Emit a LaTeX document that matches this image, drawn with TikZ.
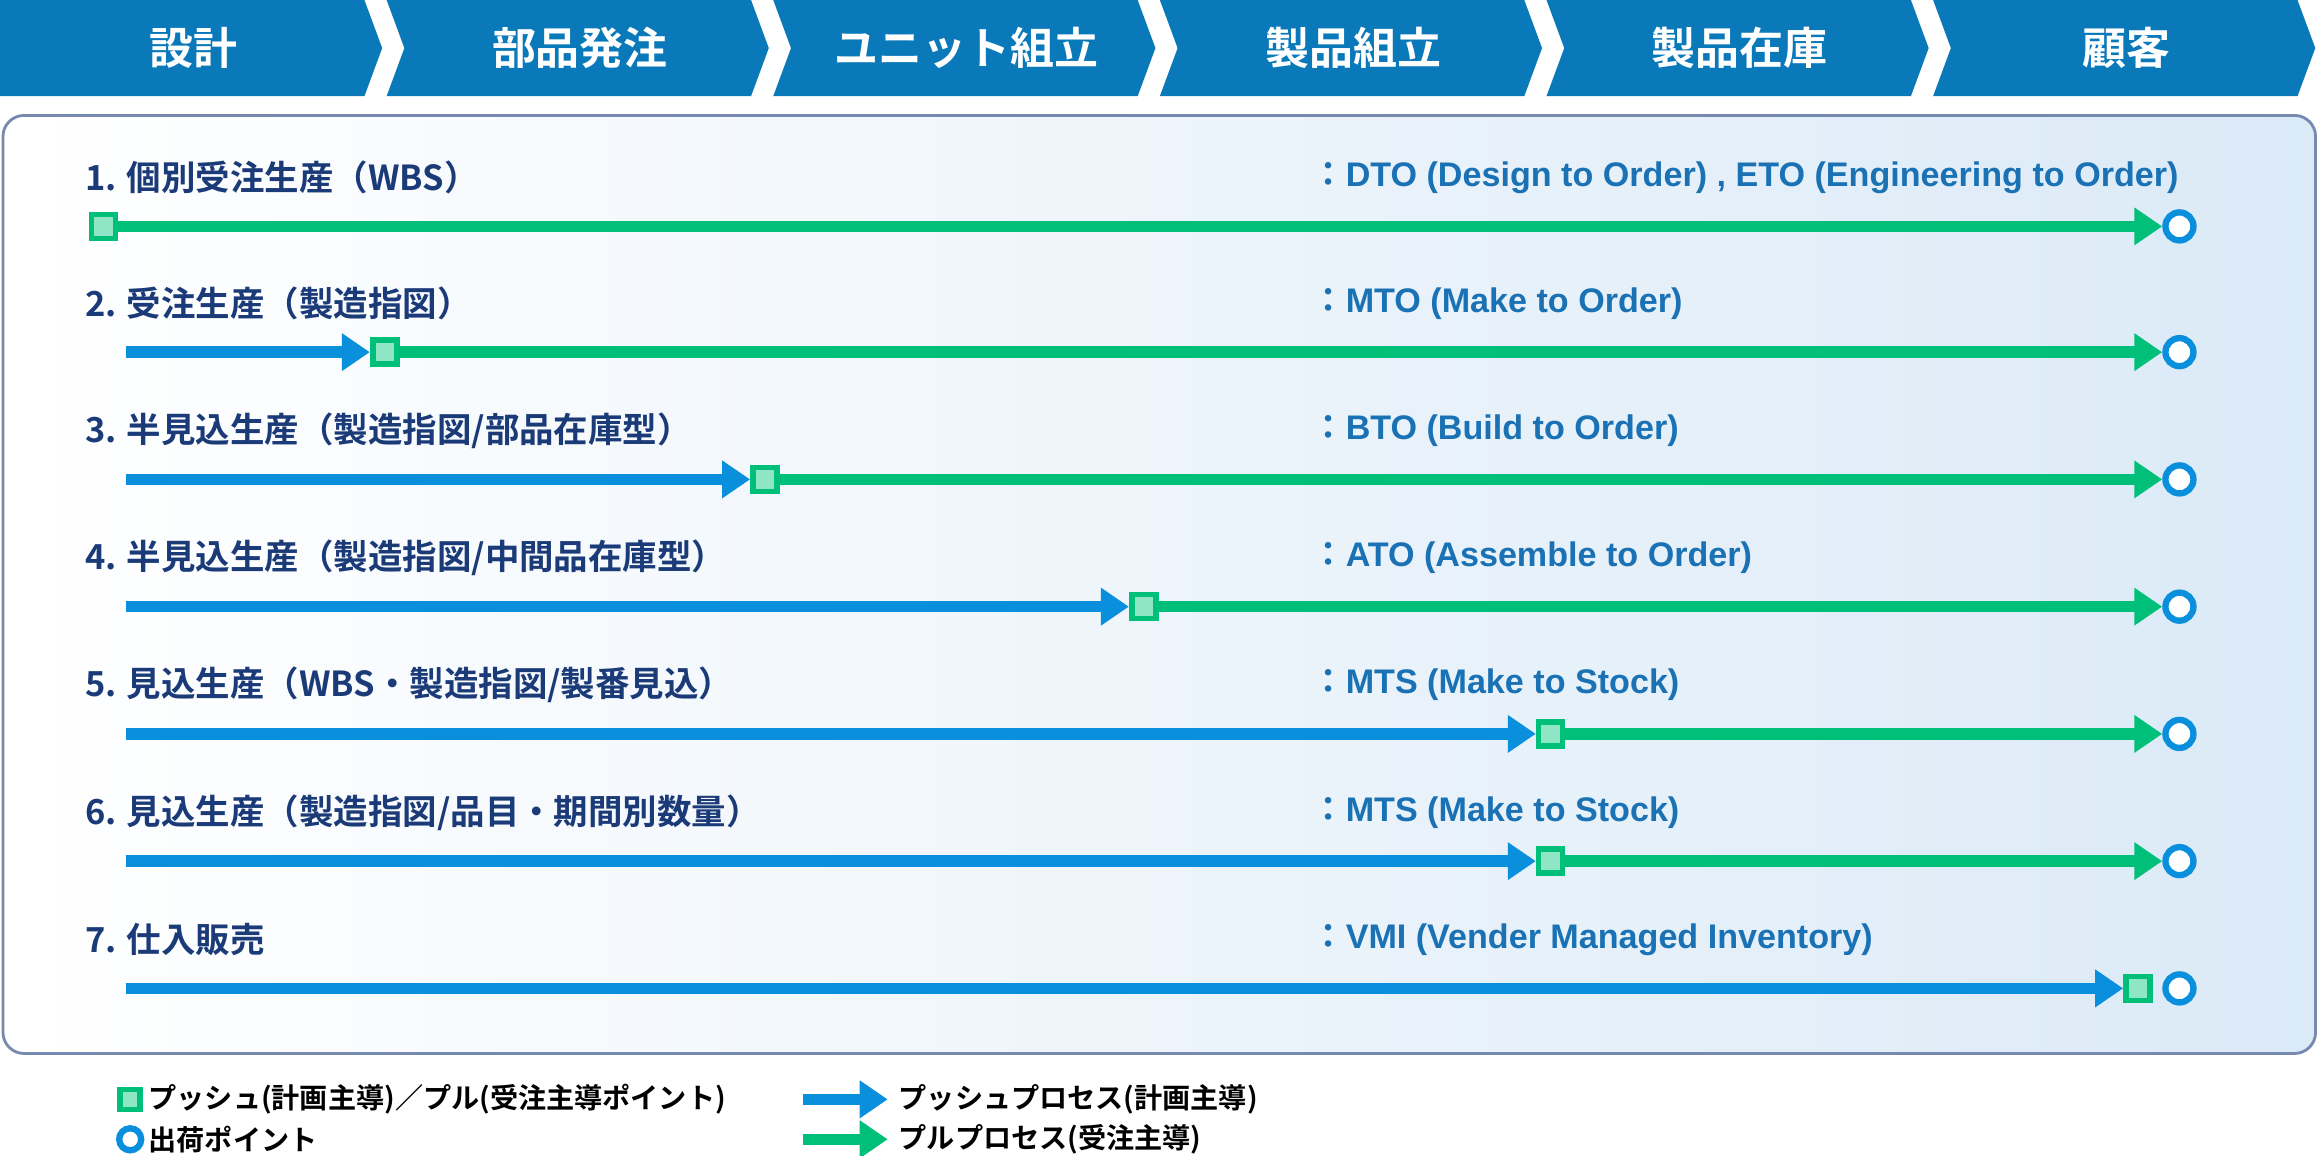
\documentclass[tikz,border=0pt]{standalone}
\usepackage{fontspec}
\setmainfont{Noto Sans CJK JP}[BoldFont={* Bold}]
\newfontfamily\latinfont{Liberation Sans}
\usetikzlibrary{arrows.meta}

\definecolor{bandblue}{HTML}{0A79BA}
\definecolor{pushblue}{HTML}{0A8FDC}
\definecolor{pullgreen}{HTML}{00BF78}
\definecolor{sqfill}{HTML}{8FE6C6}
\definecolor{navy}{HTML}{1B3A78}
\definecolor{codeblue}{HTML}{1A72B5}
\definecolor{panelblue}{HTML}{DBEAF7}

\tikzset{
  push/.style={pushblue, line width=3.3pt, -{Triangle[length=0.28cm, width=0.36cm]}},
  pull/.style={pullgreen, line width=3.3pt, -{Triangle[length=0.28cm, width=0.36cm]}},
  pointbox/.style={draw=pullgreen, fill=sqfill, line width=1.6pt, minimum size=0.24cm, inner sep=0pt},
  shipdot/.style={circle, draw=pushblue, fill=white, line width=1.8pt, minimum size=0.28cm, inner sep=0pt},
  rowlabel/.style={anchor=west, text=navy, font=\bfseries\fontsize{9.8}{12}\selectfont, inner sep=0pt},
  codelabel/.style={anchor=west, text=codeblue, font=\bfseries\fontsize{9.7}{12}\selectfont, inner sep=0pt},
  legendtext/.style={anchor=west, text=black, font=\bfseries\fontsize{8}{10}\selectfont, inner sep=0pt}
}

\begin{document}
\begin{tikzpicture}[x=0.01479cm, y=-0.01479cm]
\useasboundingbox (0,0) rectangle (1568,781);

% process band
\foreach \i/\txt in {1/設計, 2/部品発注, 3/ユニット組立, 4/製品組立, 5/製品在庫, 6/顧客} {
  \pgfmathsetmacro{\xa}{(\i-1)*261.3}
  \pgfmathsetmacro{\xb}{\i*261.3-3}
  \ifnum\i=1
    \fill[bandblue] (\xa,0) -- (\xb-12,0) -- (\xb,32.5) -- (\xb-12,65) -- (\xa,65) -- cycle;
  \else
    \fill[bandblue] (\xa,0) -- (\xb-12,0) -- (\xb,32.5) -- (\xb-12,65) -- (\xa,65) -- (\xa+12,32.5) -- cycle;
  \fi
  \node[text=white, font=\bfseries\fontsize{12.5}{14}\selectfont] (band\i) at ({(\i-0.5)*261.3},32.5) {\txt};
}

% panel
\shade[left color=white, right color=panelblue, rounded corners=6pt] (2,78) rectangle (1565,712);
\draw[navy!60, line width=0.8pt, rounded corners=6pt] (2,78) rectangle (1565,712);

% rows
\foreach \n/\y/\sx/\name/\code in {
  1/153/70/{個別受注生産（WBS）}/{DTO (Design to Order) , ETO (Engineering to Order)},
  2/238/260/{受注生産（製造指図）}/{MTO (Make to Order)},
  3/324/517/{半見込生産（製造指図/部品在庫型）}/{BTO (Build to Order)},
  4/410/773/{半見込生産（製造指図/中間品在庫型）}/{ATO (Assemble to Order)},
  5/496/1048/{見込生産（WBS・製造指図/製番見込）}/{MTS (Make to Stock)},
  6/582/1048/{見込生産（製造指図/品目・期間別数量）}/{MTS (Make to Stock)},
  7/668/1445/{仕入販売}/{VMI (Vender Managed Inventory)}} {
  \node[rowlabel] (name\n) at (57,\y-33) {\n. \name};
  \node[codelabel] (code\n) at (886,\y-33) {：{\latinfont\code}};
  \coordinate (start\n) at (85,\y);
  \node[pointbox] (pt\n) at (\sx,\y) {};
  \node[shipdot] (ship\n) at (1473,\y) {};
  \ifnum\n>1
    \draw[push] (start\n) -- (pt\n.west);
  \fi
  \ifnum\n<7
    \draw[pull] (pt\n.east) -- (ship\n.west);
  \fi
}

% legend
\node[pointbox, minimum size=0.2cm] (legbox) at (88,743) {};
\node[legendtext] (legboxtext) at (100,743) {プッシュ(計画主導)／プル(受注主導ポイント)};
\node[shipdot, minimum size=0.22cm] (legdot) at (88,770) {};
\node[legendtext] (legdottext) at (100,770) {出荷ポイント};
\coordinate (pushfrom) at (543,743);
\coordinate (pushto) at (600,743);
\coordinate (pullfrom) at (543,770);
\coordinate (pullto) at (600,770);
\draw[push] (pushfrom) -- (pushto);
\draw[pull] (pullfrom) -- (pullto);
\node[legendtext] (pushtext) at (607,743) {プッシュプロセス(計画主導)};
\node[legendtext] (pulltext) at (607,770) {プルプロセス(受注主導)};
\end{tikzpicture}
\end{document}
